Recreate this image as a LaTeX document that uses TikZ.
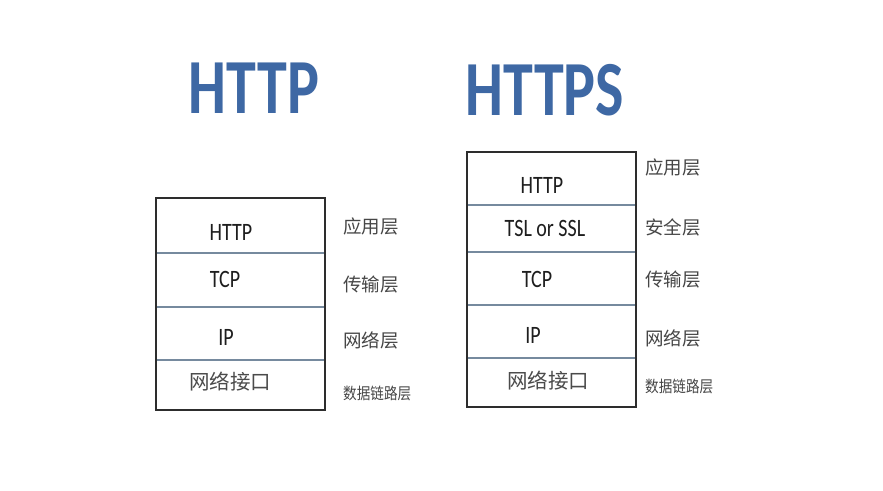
\documentclass[tikz,border=0pt]{standalone}
\usepackage{fontspec}
\setmainfont{Carlito}[FakeStretch=0.8]
\newfontfamily\titlefont{Carlito}[FakeStretch=0.77]
\newfontfamily\cjk{Noto Sans CJK SC}
\newfontfamily\cjknarrow{Noto Sans CJK SC}[FakeStretch=0.85]
\definecolor{titleblue}{RGB}{62,104,164}
\definecolor{divider}{RGB}{118,138,158}
\definecolor{frame}{RGB}{45,45,45}
\definecolor{ink}{RGB}{30,30,30}
\definecolor{labelgray}{RGB}{70,70,70}

\begin{document}
\begin{tikzpicture}[x=1pt, y=-1pt,
  title/.style = {text=titleblue, font=\titlefont\bfseries\fontsize{78}{78}\selectfont, inner sep=0pt},
  proto/.style = {text=ink, font=\fontsize{25}{25}\selectfont, inner sep=0pt},
  iface/.style = {text=ink!80, font=\cjk\fontsize{20.5}{20.5}\selectfont, inner sep=0pt},
  layer/.style = {text=labelgray, font=\cjk\fontsize{18.5}{18.5}\selectfont, anchor=west, inner sep=0pt},
  link/.style = {text=labelgray, font=\cjknarrow\fontsize{16}{16}\selectfont, anchor=west, inner sep=0pt}]
\useasboundingbox (0,0) rectangle (883,490);
\fill[white] (0,0) rectangle (883,490);
% titles
\node[title] (httpTitle) at (254,88) {HTTP};
\node[title] (httpsTitle) at (545,90) {HTTPS};
% HTTP stack
\draw[divider, line width=2pt] (156,253) -- (325,253) (156,307) -- (325,307) (156,360) -- (325,360);
\draw[frame, line width=2pt] (156,198) rectangle (325,410);
\node[proto] (lHttp) at (231,232) {HTTP};
\node[proto] (lTcp) at (225,279) {TCP};
\node[proto] (lIp) at (226,337) {IP};
\node[iface] (lNet) at (230,382) {网络接口};
\node[layer] (lApp) at (343,226) {应用层};
\node[layer] (lTrans) at (343,285) {传输层};
\node[layer] (lNetw) at (343,340) {网络层};
\node[link] (lLink) at (343,393) {数据链路层};
% HTTPS stack
\draw[divider, line width=2pt] (467,205) -- (636,205) (467,252) -- (636,252) (467,305) -- (636,305) (467,358) -- (636,358);
\draw[frame, line width=2pt] (467,152) rectangle (636,407);
\node[proto] (rHttp) at (542,185) {HTTP};
\node[proto] (rTls) at (545,228) {TSL or SSL};
\node[proto] (rTcp) at (537,279) {TCP};
\node[proto] (rIp) at (533,335) {IP};
\node[iface] (rNet) at (548,381) {网络接口};
\node[layer] (rApp) at (645,167) {应用层};
\node[layer] (rSec) at (645,227) {安全层};
\node[layer] (rTrans) at (645,280) {传输层};
\node[layer] (rNetw) at (645,338) {网络层};
\node[link] (rLink) at (645,386) {数据链路层};
\end{tikzpicture}
\end{document}
